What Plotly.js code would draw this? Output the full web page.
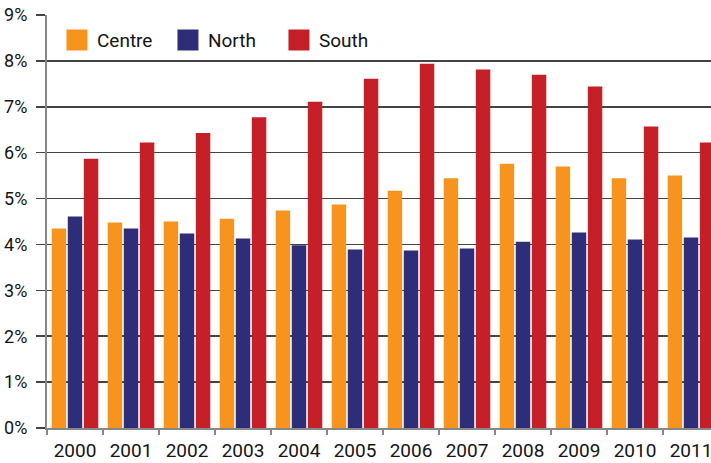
<!DOCTYPE html>
<html>
<head>
<meta charset="utf-8">
<script src="https://cdn.plot.ly/plotly-3.0.1.min.js"></script>
<style>
  html, body { margin: 0; padding: 0; background: #fff; }
  #plot { width: 711px; height: 463px; }
</style>
</head>
<body>
<div id="plot"></div>
<script>
// years on the x axis
var years = ["2000", "2001", "2002", "2003", "2004", "2005",
             "2006", "2007", "2008", "2009", "2010", "2011"];

// values in %
var centre = [4.35, 4.48, 4.50, 4.56, 4.74, 4.87, 5.17, 5.44, 5.76, 5.70, 5.44, 5.50];
var north  = [4.61, 4.35, 4.24, 4.13, 3.98, 3.89, 3.87, 3.91, 4.06, 4.26, 4.11, 4.15];
var south  = [5.87, 6.22, 6.43, 6.77, 7.11, 7.61, 7.94, 7.81, 7.70, 7.44, 6.57, 6.22];

var names = ["Centre", "North", "South"];
var colors = ["#F7941D", "#2E2D78", "#C51F28"];
var series = [centre, north, south];

var chart_data = [];

// the bars
series.forEach(function (vals, i) {
  chart_data.push({
    x: years,
    y: vals,
    name: names[i],
    type: "bar",
    marker: {color: colors[i]},
    showlegend: false,
    hoverinfo: "x+y+name"
  });
});

// legend only entries (bigger squares than the bar legend gives)
series.forEach(function (vals, i) {
  chart_data.push({
    x: [years[0]],
    y: [null],
    name: names[i],
    type: "scatter",
    mode: "markers",
    marker: {symbol: "square", size: 16, color: colors[i],
             line: {color: colors[i], width: 5}},
    hoverinfo: "skip"
  });
});

var layout = {
  width: 711,
  height: 463,
  margin: {l: 47, r: 0, t: 15, b: 35},
  paper_bgcolor: "#fff",
  plot_bgcolor: "#fff",
  font: {family: "Roboto, 'DejaVu Sans', sans-serif", size: 19, color: "#141414"},
  barmode: "group",
  bargap: 0.14,
  bargroupgap: 0.1,
  xaxis: {
    type: "category",
    range: [-0.5, 11.357],
    tickson: "boundaries",
    ticks: "outside",
    ticklen: 5,
    tickwidth: 1.5,
    tickcolor: "#888",
    ticklabelstandoff: 5,
    showgrid: false,
    showline: true,
    linecolor: "#888",
    linewidth: 1.5,
    zeroline: false,
    fixedrange: true
  },
  yaxis: {
    range: [0, 9],
    dtick: 1,
    ticksuffix: "%",
    ticks: "outside",
    ticklen: 9,
    tickwidth: 1.5,
    tickcolor: "#444",
    ticklabelstandoff: 5,
    tickfont: {size: 18},
    showgrid: true,
    gridcolor: "#444",
    gridwidth: 1.5,
    showline: true,
    linecolor: "#888",
    linewidth: 2,
    zeroline: false,
    fixedrange: true
  },
  legend: {
    orientation: "h",
    x: 0.015,
    y: 0.985,
    xanchor: "left",
    yanchor: "top",
    bgcolor: "rgba(0,0,0,0)",
    font: {size: 19},
    entrywidth: 66,
    entrywidthmode: "pixels"
  },
  showlegend: true
};

var config = {displayModeBar: false, staticPlot: true};

Plotly.newPlot("plot", chart_data, layout, config);
</script>
</body>
</html>
